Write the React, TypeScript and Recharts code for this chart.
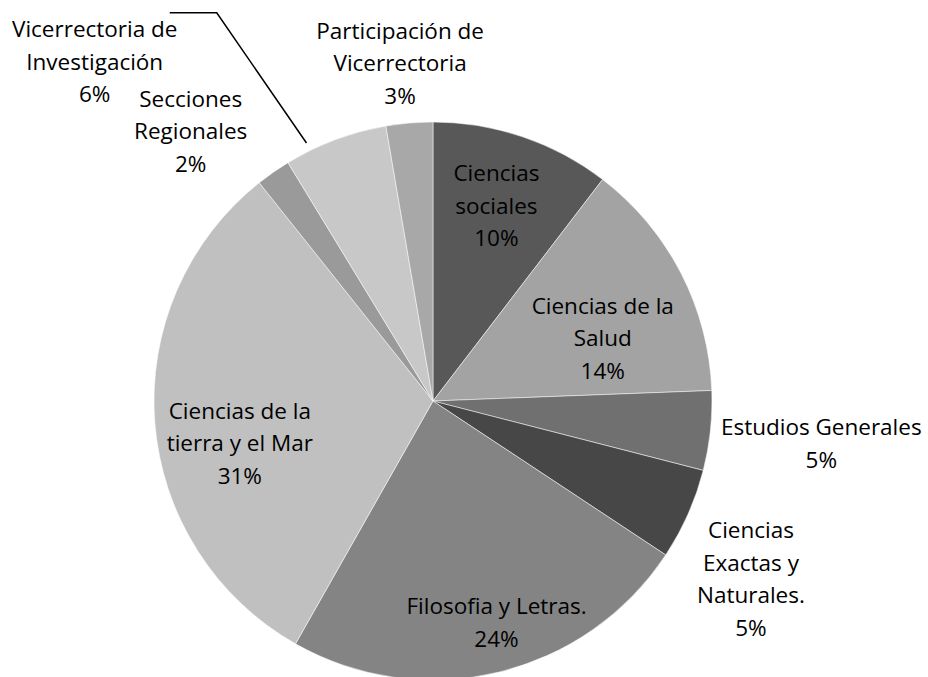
import React from 'react';
import { PieChart, Pie, Cell } from 'recharts';

// categorías y valores (%), en sentido horario desde las 12
const categories = [
  'Ciencias sociales',
  'Ciencias de la Salud',
  'Estudios Generales',
  'Ciencias Exactas y Naturales.',
  'Filosofia y Letras.',
  'Ciencias de la tierra y el Mar',
  'Secciones Regionales',
  'Vicerrectoria de Investigación',
  'Participación de Vicerrectoria',
];
const values = [10.4, 14.0, 4.6, 5.3, 23.9, 31.1, 2.0, 6.0, 2.7];

// cortes de línea de cada etiqueta
const labelLines = [
  ['Ciencias', 'sociales'],
  ['Ciencias de la', 'Salud'],
  ['Estudios Generales'],
  ['Ciencias', 'Exactas y', 'Naturales.'],
  ['Filosofia y Letras.'],
  ['Ciencias de la', 'tierra y el Mar'],
  ['Secciones', 'Regionales'],
  ['Vicerrectoria de', 'Investigación'],
  ['Participación de', 'Vicerrectoria'],
];

const colors = ['#585858', '#a3a3a3', '#707070', '#474747', '#848484', '#c0c0c0', '#9a9a9a', '#c8c8c8', '#a8a8a8'];

// [factor de radio, desplazamiento angular en grados (horario)] por etiqueta
const labelPlace: [number, number][] = [
  [0.735, -0.7],
  [0.649, 7.0],
  [1.4, 0.1],
  [1.306, 5.3],
  [0.826, -2.5],
  [0.709, -7.9],
  [1.3, -7.0],
  [1.717, -24.4],
  [1.217, -0.7],
];

const RADIAN = Math.PI / 180;
const LINE = 32.5;
const FONT = '"Open Sans", sans-serif';

const data = categories.map((name, i) => ({ name, value: values[i] }));

const renderLabel = (props: any) => {
  const { cx, cy, midAngle, outerRadius, index, percent } = props;
  const [k, shift] = labelPlace[index];
  const a = (midAngle - shift) * RADIAN;
  const x = cx + outerRadius * k * Math.cos(a);
  const y = cy - outerRadius * k * Math.sin(a);
  const lines = [...labelLines[index], `${Math.round(percent * 100)}%`];
  const n = lines.length;

  // línea guía de "Vicerrectoria de Investigación"
  let leader = null;
  if (index === 7) {
    const b = (midAngle + 5.6) * RADIAN;
    const ex = cx + outerRadius * 1.03 * Math.cos(b);
    const ey = cy - outerRadius * 1.03 * Math.sin(b);
    leader = (
      <polyline
        points={`${x + 75},${y - 49} ${x + 122},${y - 49} ${ex},${ey}`}
        fill="none"
        stroke="#000"
        strokeWidth={1.5}
      />
    );
  }

  return (
    <g key={`lbl-${index}`}>
      {leader}
      <text x={x} y={y} textAnchor="middle" fill="#000" fontSize={22.5} fontFamily={FONT}>
        {lines.map((ln, i) => (
          <tspan key={i} x={x} y={y + (i - (n - 1) / 2) * LINE + 8}>
            {ln}
          </tspan>
        ))}
      </text>
    </g>
  );
};

export default function App() {
  return (
    <div style={{ position: 'absolute', left: 0, top: 0, width: 928, height: 677, background: '#fff', overflow: 'hidden' }}>
      <PieChart width={928} height={677} margin={{ top: 0, right: 0, bottom: 0, left: 0 }}>
        <Pie
          data={data}
          dataKey="value"
          nameKey="name"
          cx={433}
          cy={401}
          outerRadius={279}
          startAngle={90}
          endAngle={-270}
          stroke="#ffffff"
          strokeWidth={0.5}
          label={renderLabel}
          labelLine={false}
          isAnimationActive={false}
        >
          {data.map((d, i) => (
            <Cell key={d.name} fill={colors[i]} />
          ))}
        </Pie>
      </PieChart>
    </div>
  );
}
